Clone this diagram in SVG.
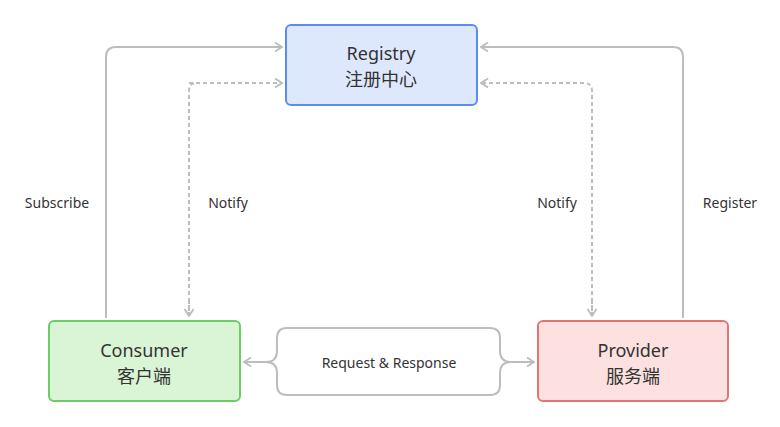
<svg xmlns="http://www.w3.org/2000/svg" width="780" height="427" viewBox="0 0 780 427">
<style>
.node text{font-family:"Noto Sans","Noto Sans CJK SC",sans-serif;font-size:18px;fill:#333;text-anchor:middle}
.lbl{font-family:"Noto Sans","Noto Sans CJK SC",sans-serif;font-size:14px;fill:#333;text-anchor:middle}
.ln{fill:none;stroke:#bdbdbd;stroke-width:2}
.dash{stroke-dasharray:4 3}
</style>
<defs>
<marker id="ah" viewBox="0 0 10 10" refX="9" refY="5" markerWidth="10" markerHeight="10" markerUnits="userSpaceOnUse" orient="auto">
<path d="M2 0.5 L9 5 L2 9.5" fill="none" stroke="#bdbdbd" stroke-width="1.8"/>
</marker>
</defs>
<rect width="780" height="427" fill="#fff"/>
<g id="connectors">
<path class="ln" d="M106 318 V57 Q106 47 116 47 H282" marker-end="url(#ah)"/>
<path class="ln dash" d="M189 83 H282" marker-end="url(#ah)"/>
<path class="ln dash" d="M189 316 V91 Q189 83 197 83"/>
<path class="ln" d="M683 318 V57 Q683 47 673 47 H481" marker-end="url(#ah)"/>
<path class="ln dash" d="M584 83 H481" marker-end="url(#ah)"/>
<path class="ln dash" d="M592 316 V91 Q592 83 584 83"/>
<path class="ln" d="M189 300 V316" marker-end="url(#ah)" stroke-dasharray="4 3"/>
<path class="ln" d="M592 300 V316" marker-end="url(#ah)" stroke-dasharray="4 3"/>
<path class="ln" d="M266 362 Q277 362 277 351 V338 Q277 328 287 328 H490 Q500 328 500 338 V351 Q500 362 511 362 Q500 362 500 373 V385 Q500 395 490 395 H287 Q277 395 277 385 V373 Q277 362 266 362"/>
<path class="ln" d="M266 362 H244" marker-end="url(#ah)"/>
<path class="ln" d="M511 362 H534" marker-end="url(#ah)"/>
<text class="lbl" x="57" y="208">Subscribe</text>
<text class="lbl" x="228" y="208">Notify</text>
<text class="lbl" x="557" y="208">Notify</text>
<text class="lbl" x="730" y="208">Register</text>
<text class="lbl" x="389" y="368">Request &amp; Response</text>
</g>
<g id="registry" class="node">
<rect x="286" y="25" width="191" height="80" rx="5" fill="#dde8fd" stroke="#5b8def" stroke-width="2"/>
<text x="381" y="60">Registry</text>
<text x="381" y="86">注册中心</text>
</g>
<g id="consumer" class="node">
<rect x="49" y="321" width="191" height="80" rx="5" fill="#daf4d6" stroke="#6dcc66" stroke-width="2"/>
<text x="144" y="357">Consumer</text>
<text x="144" y="383">客户端</text>
</g>
<g id="provider" class="node">
<rect x="538" y="321" width="190" height="80" rx="5" fill="#fde0e0" stroke="#e57373" stroke-width="2"/>
<text x="633" y="357">Provider</text>
<text x="633" y="383">服务端</text>
</g>
</svg>
